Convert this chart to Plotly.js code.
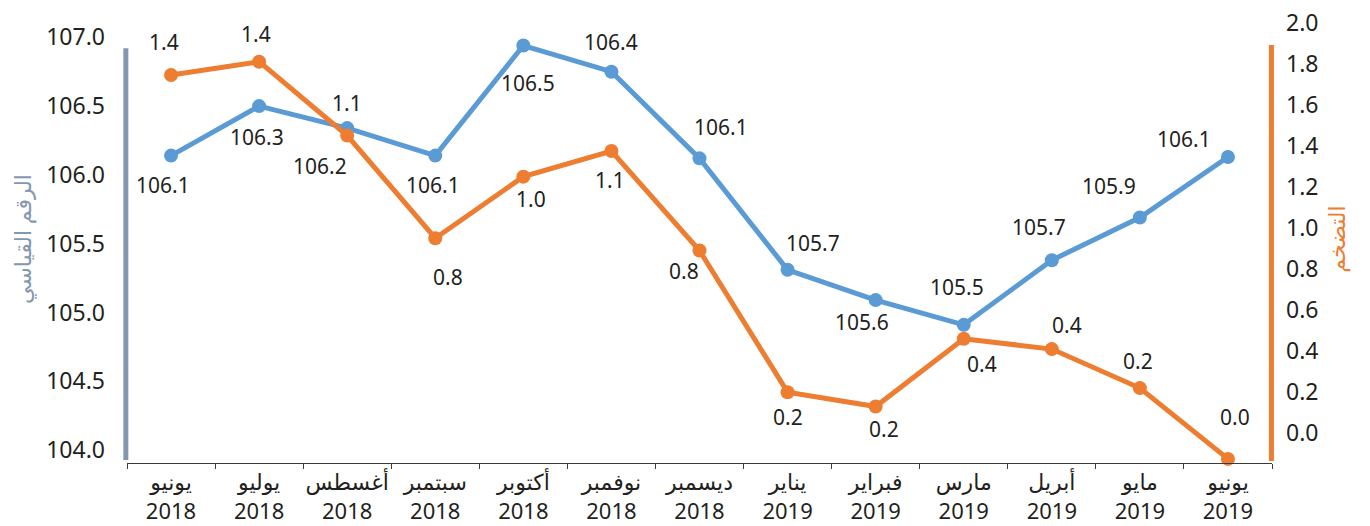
<!DOCTYPE html>
<html>
<head>
<meta charset="utf-8">
<script src="https://cdn.plot.ly/plotly-3.0.1.min.js"></script>
<style>html,body{margin:0;padding:0;background:#fff;}#chart{width:1370px;height:526px;}</style>
</head>
<body>
<div id="chart"></div>
<script>
// ---- data ----
const months = ['يونيو','يوليو','أغسطس','سبتمبر','أكتوبر','نوفمبر','ديسمبر','يناير','فبراير','مارس','أبريل','مايو','يونيو'];
const years = ['2018','2018','2018','2018','2018','2018','2018','2019','2019','2019','2019','2019','2019'];
const indexValues = [106.14, 106.50, 106.34, 106.14, 106.94, 106.75, 106.12, 105.31, 105.09, 104.91, 105.38, 105.69, 106.13];
const inflationValues = [1.745, 1.81, 1.45, 0.95, 1.25, 1.375, 0.89, 0.20, 0.13, 0.46, 0.41, 0.22, -0.125];
const indexLabels = ['106.1','106.3','106.2','106.1','106.5','106.4','106.1','105.7','105.6','105.5','105.7','105.9','106.1'];
const inflationLabels = ['1.4','1.4','1.1','0.8','1.0','1.1','0.8','0.2','0.2','0.4','0.4','0.2','0.0'];
const leftTitle = 'الرقم القياسي';
const rightTitle = 'التضخم';

// ---- styling (label offsets in px: [dx, dy-down]) ----
const indexLabelOffsets = [[-8,29],[-2,31],[-27,38],[-2,29],[5,37],[0,-30],[21,-31],[25,-27],[-14,22],[-7,-38],[-13,-33],[-31,-32],[-44,-18]];
const inflationLabelOffsets = [[-7,-33],[-3,-28],[0,-33],[13,39],[8,22],[-1,29],[-16,20],[0,25],[8,22],[18,25],[15,-24],[-2,-27],[7,-42]];

const BLUE = '#5b9bd5', ORANGE = '#ed7d31', SLATE = '#8497b0', TXT = '#231f20';
const FONT = 'Noto Sans, DejaVu Sans, sans-serif';

const cats = months.map((m, i) => m + ' ' + years[i]);
const tickText = months.map((m, i) => m + '<br>' + years[i]);

const traces = [
  {x: cats, y: inflationValues, xaxis: 'x', yaxis: 'y2', type: 'scatter', mode: 'lines+markers',
   line: {color: ORANGE, width: 5}, marker: {color: ORANGE, size: 14}, cliponaxis: false, hoverinfo: 'skip'},
  {x: cats, y: indexValues, xaxis: 'x', yaxis: 'y', type: 'scatter', mode: 'lines+markers',
   line: {color: BLUE, width: 5}, marker: {color: BLUE, size: 14}, cliponaxis: false, hoverinfo: 'skip'}
];

const annotations = [];
cats.forEach((c, i) => {
  annotations.push({x: c, y: indexValues[i], xref: 'x', yref: 'y', text: indexLabels[i], showarrow: false,
    xshift: indexLabelOffsets[i][0], yshift: -indexLabelOffsets[i][1], font: {family: FONT, size: 21, color: TXT}});
  annotations.push({x: c, y: inflationValues[i], xref: 'x', yref: 'y2', text: inflationLabels[i], showarrow: false,
    xshift: inflationLabelOffsets[i][0], yshift: -inflationLabelOffsets[i][1], font: {family: FONT, size: 21, color: TXT}});
});

const layout = {
  width: 1370, height: 526,
  margin: {l: 127, r: 98, t: 15, b: 63},
  paper_bgcolor: '#fff', plot_bgcolor: '#fff',
  showlegend: false,
  font: {family: FONT, size: 22, color: TXT},
  xaxis: {type: 'category', categoryarray: cats, tickvals: cats, ticktext: tickText, range: [-0.5, 12.5],
    tickangle: 0, tickson: 'boundaries', ticks: 'outside', ticklen: 5, tickcolor: '#3a3a3a', tickwidth: 1,
    showline: true, linecolor: '#3a3a3a', linewidth: 1, showgrid: false, zeroline: false,
    tickfont: {family: FONT, size: 22, color: TXT}, fixedrange: true},
  yaxis: {range: [103.906, 107.162], dtick: 0.5, tick0: 104, tickformat: '.1f', showgrid: false, zeroline: false,
    showline: false, ticks: '', ticklabelstandoff: 21, tickfont: {family: FONT, size: 23, color: TXT},
    title: {text: leftTitle, font: {family: FONT, size: 22, color: SLATE}, standoff: 8}},
  yaxis2: {range: [-0.145, 2.0375], dtick: 0.2, tick0: 0, tickformat: '.1f', overlaying: 'y', side: 'right', anchor: 'x',
    showgrid: false, zeroline: false, showline: false, ticks: '', ticklabelstandoff: 13,
    tickfont: {family: FONT, size: 23, color: TXT},
    title: {text: rightTitle, font: {family: FONT, size: 22, color: ORANGE}, standoff: 12}},
  shapes: [
    {type: 'line', xref: 'paper', yref: 'paper', x0: -0.001, x1: -0.001, y0: 0.0067, y1: 0.926, line: {color: SLATE, width: 5}},
    {type: 'line', xref: 'paper', yref: 'paper', x0: 0.9995, x1: 0.9995, y0: 0.0045, y1: 0.933, line: {color: ORANGE, width: 5}}
  ],
  annotations: annotations
};

Plotly.newPlot('chart', traces, layout, {displayModeBar: false, staticPlot: true});
</script>
</body>
</html>
